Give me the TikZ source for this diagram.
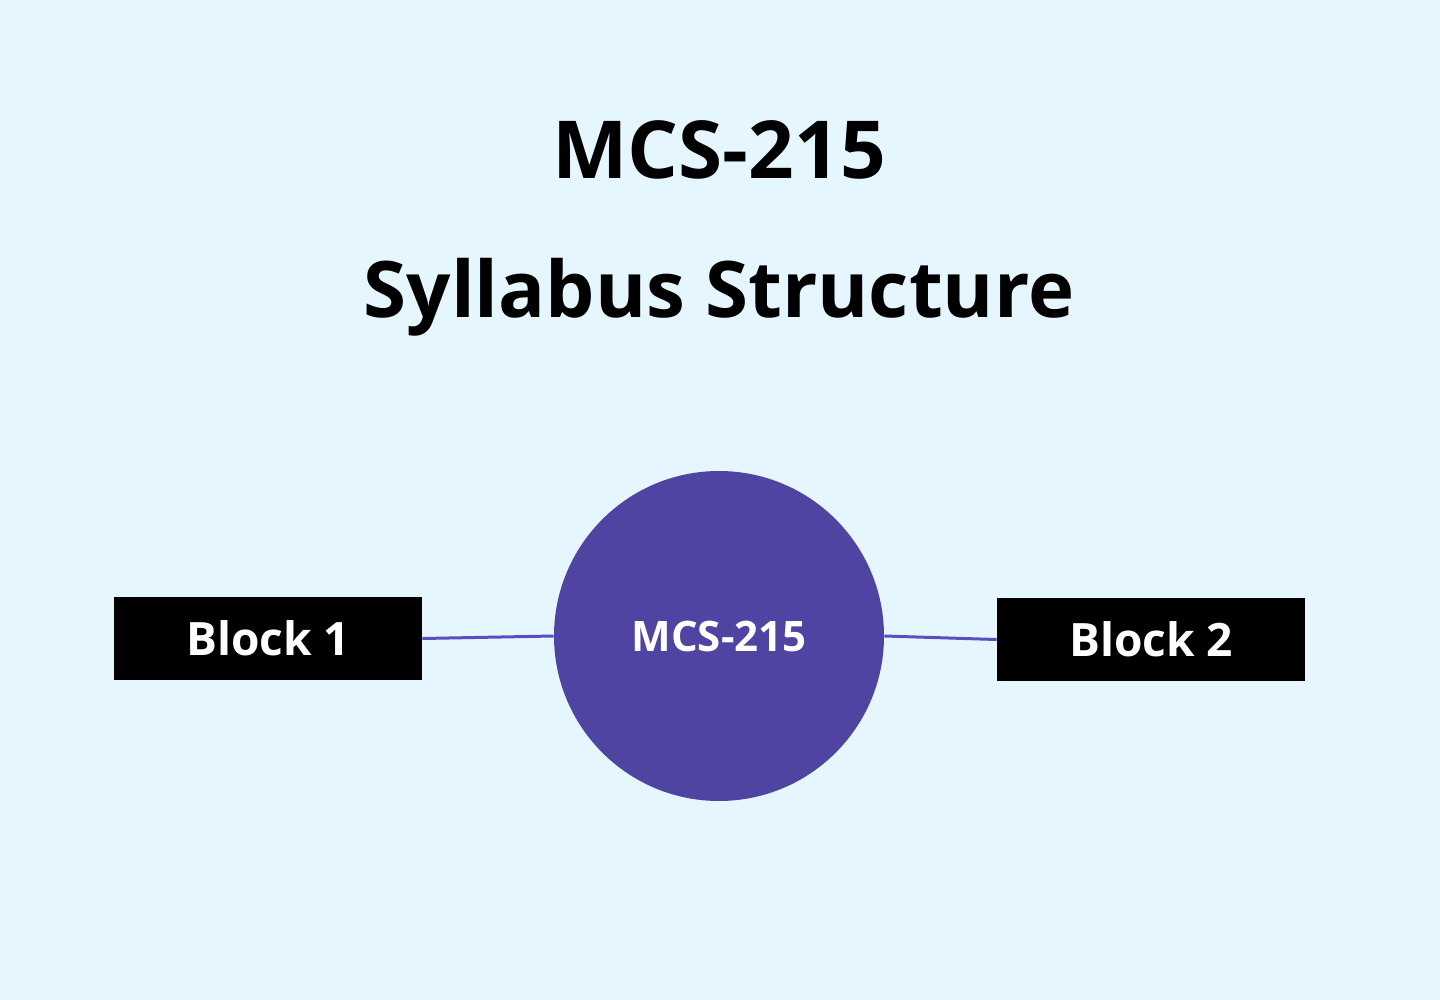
\documentclass[tikz,border=0pt]{standalone}
\usepackage{fontspec}
\setmainfont{Open Sans}
\usetikzlibrary{positioning}
\definecolor{bgblue}{HTML}{E6F6FF}
\definecolor{hubpurple}{HTML}{4F44A2}
\definecolor{linkpurple}{HTML}{5A4FC0}
\tikzset{
  block/.style={fill=black, text=white, minimum width=154pt, minimum height=41.5pt,
    inner sep=0pt, font=\fontsize{23}{27}\selectfont\bfseries},
  hub/.style={circle, fill=hubpurple, text=white, minimum size=165pt, inner sep=0pt,
    font=\fontsize{21}{25}\selectfont\bfseries},
  link/.style={linkpurple, line width=1.5pt}
}
\begin{document}
\begin{tikzpicture}[x=0.5pt, y=-0.5pt]

  % fond
  \fill[bgblue] (0,0) rectangle (1440,1000);
  \useasboundingbox (0,0) rectangle (1440,1000);

  % titres
  \node[font=\fontsize{40}{46}\selectfont\bfseries] (title) at (719,150) {MCS-215};
  \node[font=\fontsize{39}{46}\selectfont\bfseries] (subtitle) at (719,297) {Syllabus Structure};

  % noeuds
  \node[hub] (hub) at (719,636) {MCS-215};
  \node[block] (b1) at (268,638.5) {Block 1};
  \node[block] (b2) at (1151,639.5) {Block 2};

  % liaisons
  \draw[link] (b1.east) -- (hub.west);
  \draw[link] (hub.east) -- (b2.west);

\end{tikzpicture}
\end{document}
